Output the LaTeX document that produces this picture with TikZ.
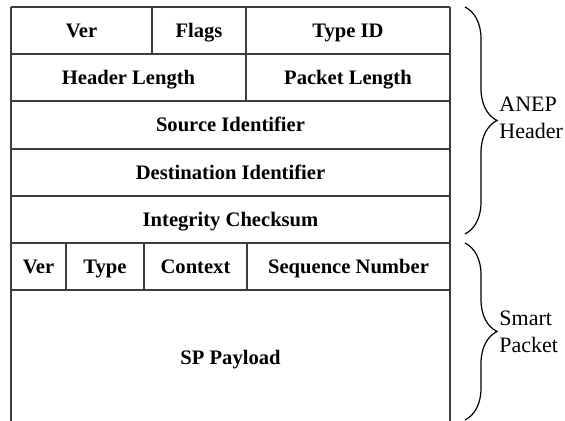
\documentclass[tikz,border=0pt]{standalone}
\usepackage{fontspec}
\setmainfont{Liberation Serif}
\usetikzlibrary{decorations.pathreplacing}
\definecolor{rulegray}{RGB}{60,60,60}

\begin{document}
\begin{tikzpicture}[x=0.5pt,y=-0.5pt,
  rule/.style={rulegray, line width=0.7pt},
  field/.style={font=\fontsize{10.3}{12}\selectfont\bfseries, inner sep=0pt, anchor=base},
  side/.style={font=\fontsize{11}{13.5}\selectfont, align=left, anchor=west, inner sep=0pt},
  bracket/.style={decorate, decoration={brace, amplitude=16pt}, line width=0.6pt}]
\useasboundingbox (0,0) rectangle (565,421);
% draw horizontal lines
\foreach \y in {7,54,101,149,196,243,290}
\draw[rule] (11,\y) -- (450,\y);
% outer walls, open at the bottom
\draw[rule] (11,7) -- (11,421);
\draw[rule] (450,7) -- (450,421);
% dividers inside the rows
\foreach \x/\ya/\yb in {152/7/54, 246/7/101, 66/243/290, 144/243/290, 247/243/290}
\draw[rule] (\x,\ya) -- (\x,\yb);
% field names (placed on the baseline)
\foreach \name/\x/\y/\descr in
{ver/81.5/37.3/Ver, flags/199/37.3/Flags, typeid/348/37.3/Type ID,
 hlen/128.5/84.3/Header Length, plen/348/84.3/Packet Length,
 src/230.5/131.8/Source Identifier, dst/230.5/179.3/Destination Identifier,
 chk/230.5/226.3/Integrity Checksum,
 spver/38.5/273.3/Ver, sptype/105/273.3/Type, ctx/195.5/273.3/Context,
 seq/348.5/273.3/Sequence Number, payload/230.5/364/SP Payload}
\node[field] (\name) at (\x,\y) {\descr};

% braces
\coordinate (anepTop) at (465,7);
\coordinate (anepBot) at (465,234);
\coordinate (spTop) at (465,243);
\coordinate (spBot) at (465,420);
\draw[bracket] (anepTop) -- (anepBot);
\draw[bracket] (spTop) -- (spBot);
\node[side] (anep) at (499,118) {ANEP\\Header};
\node[side] (smart) at (499,332) {Smart\\Packet};
\end{tikzpicture}
\end{document}
